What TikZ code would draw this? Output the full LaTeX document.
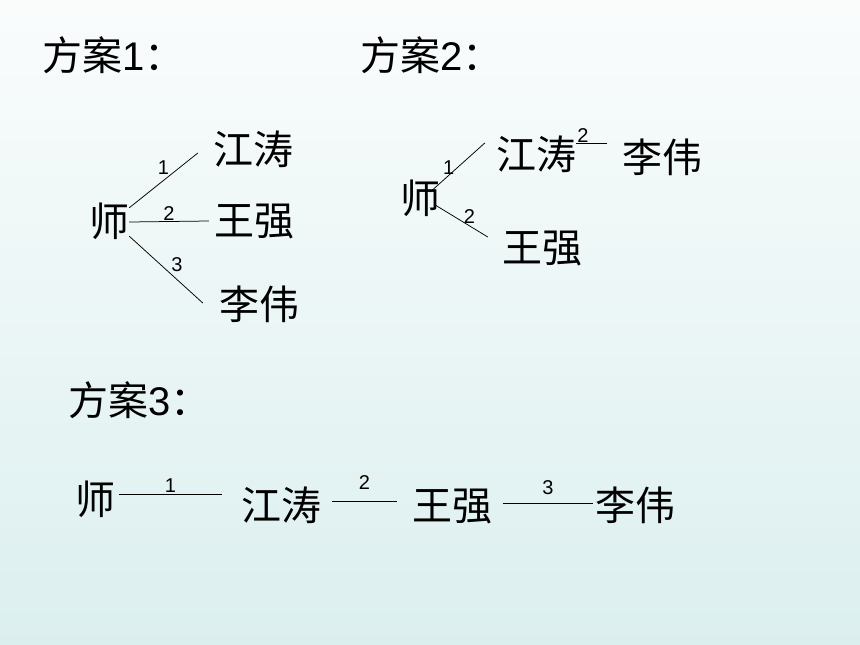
\documentclass[tikz,border=0pt]{standalone}
\usepackage{fontspec}
\setmainfont{Liberation Sans}
\newfontfamily\cjk{Noto Sans CJK SC}
\definecolor{bgtop}{HTML}{FAFCFC}
\definecolor{bgbot}{HTML}{DCEFEF}
\tikzset{
  person/.style={inner sep=0pt,text height=34pt,text depth=6pt,font=\cjk\fontsize{40}{40}\selectfont},
  title/.style={anchor=west,inner sep=0pt,font=\fontsize{40}{40}\selectfont},
  numlabel/.style={inner sep=0pt,font=\fontsize{20}{20}\selectfont},
  link/.style={draw=black,line width=0.75pt}
}
\begin{document}
\begin{tikzpicture}[x=1pt,y=-1pt]
\fill[top color=bgtop,bottom color=bgbot] (0,0) rectangle (860,645);

\node(t1) at (42,55)[title]{{\cjk 方案}1{\cjk ：}};
\node(t2) at (360,55)[title]{{\cjk 方案}2{\cjk ：}};
\node(t3) at (68,400)[title]{{\cjk 方案}3{\cjk ：}};

% plan 1
\node(s1) at (109,222)[person]{师};
\node(jt1) at (253,150)[person]{江涛};
\node(wq1) at (254,221)[person]{王强};
\node(lw1) at (259,305)[person]{李伟};

\path [link]
  (s1.35)  edge node [numlabel,above=6pt]            {1} ([shift={(-15,3)}]jt1.west)
  (s1.east) edge node [numlabel,above=1pt]           {2} ([xshift=-5pt]wq1.west)
  (s1.-35) edge node [numlabel,xshift=11pt,yshift=5pt] {3} ([shift={(-16,-2)}]lw1.west);

% plan 2
\node(s2) at (420,199)[person]{师};
\node(jt2) at (536,155)[person]{江涛};
\node(lw2) at (662,158)[person]{李伟};
\node(wq2) at (542,248)[person]{王强};

\path [link]
  ([shift={(-10,-7)}]s2.east) edge node [numlabel,left=3pt]           {1} ([shift={(-11,-12)}]jt2.west)
  ([shift={(-5,6)}]s2.east)   edge node [numlabel,xshift=8pt,yshift=4pt] {2} ([shift={(-14,-11)}]wq2.west)
  ([yshift=12pt]jt2.east)     edge node [numlabel,pos=0.22,above=0pt] {2} ([shift={(-15,-15)}]lw2.west);

% plan 3
\node(s3) at (95,500)[person]{师};
\node(jt3) at (281,506)[person]{江涛};
\node(wq3) at (452,506)[person]{王强};
\node(lw3) at (635,506)[person]{李伟};

\path [link]
  ([shift={(4,-6)}]s3.east)   edge node [numlabel,above=1pt]  {1} ([shift={(-19,-12)}]jt3.west)
  ([shift={(11,-5)}]jt3.east) edge node [numlabel,above=11pt] {2} ([shift={(-15,-5)}]wq3.west)
  ([shift={(11,-3)}]wq3.east) edge node [numlabel,above=8pt]  {3} ([shift={(-2,-3)}]lw3.west);

\end{tikzpicture}
\end{document}
